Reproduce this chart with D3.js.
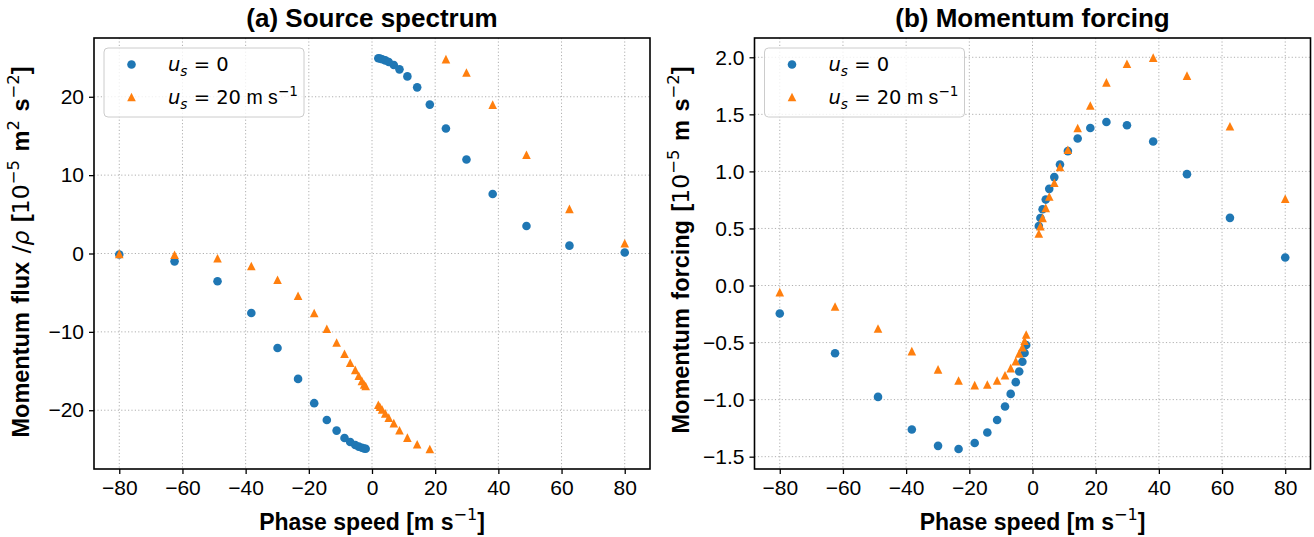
<!DOCTYPE html>
<html><head><meta charset="utf-8">
<script src="https://cdn.jsdelivr.net/npm/d3@7"></script>
<style>body{margin:0;background:#fff}svg text{font-family:"Liberation Sans",Arial,Helvetica,sans-serif;fill:#000}</style>
</head><body><svg id="c" width="1314" height="537"></svg>
<script>
// ---------- data ----------
const phaseSpeed = [-80,-62.5,-48.9,-38.2,-29.9,-23.4,-18.3,-14.3,-11.2,-8.7,-6.9,-5.3,-4.2,-3.2,-2.5,-2.0,
                     2.0,2.5,3.2,4.2,5.3,6.9,8.7,11.2,14.3,18.3,23.4,29.9,38.2,48.9,62.5,80];
const fluxU0 = [-0.13,-1.0,-3.55,-7.6,-12.05,-16.0,-19.1,-21.25,-22.6,-23.55,-24.05,-24.43,-24.64,-24.79,-24.88,-24.92,
                24.92,24.88,24.79,24.64,24.43,24.05,23.5,22.6,21.2,19.0,15.95,12.0,7.6,3.5,1.0,0.13];
const fluxU20 = [-0.05,-0.15,-0.6,-1.6,-3.35,-5.4,-7.6,-9.6,-11.35,-12.8,-13.95,-14.85,-15.6,-16.25,-16.7,-16.9,
                 -19.3,-19.55,-19.9,-20.4,-20.95,-21.65,-22.55,-23.5,-24.35,-24.95,24.8,23.1,19.0,12.6,5.7,1.3];
const forcingU0 = [-0.245,-0.593,-0.976,-1.262,-1.405,-1.433,-1.38,-1.288,-1.178,-1.06,-0.95,-0.847,-0.753,-0.668,-0.592,-0.522,
                   0.522,0.592,0.668,0.753,0.847,0.95,1.06,1.178,1.288,1.38,1.433,1.405,1.262,0.976,0.593,0.245];
const forcingU20 = [-0.058,-0.184,-0.377,-0.575,-0.735,-0.832,-0.873,-0.867,-0.832,-0.787,-0.724,-0.663,-0.595,-0.54,-0.484,-0.429,
                    0.456,0.52,0.593,0.68,0.78,0.9,1.04,1.19,1.38,1.577,1.78,1.944,1.997,1.839,1.395,0.76];
const xTickValues = [-80,-60,-40,-20,0,20,40,60,80];
const fluxTickValues = [-20,-10,0,10,20];
const forcingTickValues = [-1.5,-1.0,-0.5,0.0,0.5,1.0,1.5,2.0];

// ---------- drawing ----------
const svg = d3.select("#c");
const BLUE = "#1f77b4", ORANGE = "#ff7f0e";
const TOP = 38, BOTTOM = 469;
const MATH = "DejaVu Sans";
const fmtMinus = s => s.replace("-", "\u2212");

// parts: t=text, s=sup/sub, i=italic, m=math font (regular weight)
function rich(textSel, parts, base) {
  let cur = 0;
  parts.forEach(p => {
    const target = p.s === "sup" ? -0.42 * base : p.s === "sub" ? 0.25 * base : 0;
    const ts = textSel.append("tspan").attr("dy", target - cur).text(p.t);
    cur = target;
    ts.attr("font-size", p.s ? base * 0.7 : base);
    if (p.i) ts.attr("font-style", "italic");
    if (p.m) ts.style("font-family", MATH).attr("font-weight", "normal");
  });
}

function panel(opt) {
  const g = svg.append("g");
  const x = d3.scaleLinear().domain([-88, 88]).range([opt.left, opt.right]);
  const y = d3.scaleLinear().domain(opt.ydom).range([BOTTOM, TOP]);

  // grid
  const grid = g.append("g").attr("stroke", "#b0b0b0").attr("stroke-width", 1).attr("stroke-dasharray", "1.2,2.2");
  grid.selectAll(".gx").data(xTickValues).join("line")
    .attr("x1", d => x(d)).attr("x2", d => x(d)).attr("y1", TOP).attr("y2", BOTTOM);
  grid.selectAll(".gy").data(opt.yticks).join("line")
    .attr("y1", d => y(d)).attr("y2", d => y(d)).attr("x1", opt.left).attr("x2", opt.right);

  // axes
  const ax = g.append("g").attr("transform", `translate(0,${BOTTOM})`)
    .call(d3.axisBottom(x).tickValues(xTickValues).tickSize(5).tickPadding(6).tickFormat(d => fmtMinus(d3.format("d")(d))));
  const ay = g.append("g").attr("transform", `translate(${opt.left},0)`)
    .call(d3.axisLeft(y).tickValues(opt.yticks).tickSize(5).tickPadding(5).tickFormat(d => fmtMinus(opt.fmt(d))));
  [ax, ay].forEach(a => {
    a.select(".domain").remove();
    a.selectAll(".tick line").attr("stroke", "#000").attr("stroke-width", 1.3);
    a.selectAll(".tick text").attr("font-size", 21).attr("font-family", "Liberation Sans, Arial, sans-serif");
  });

  // markers
  const pts = g.append("g");
  pts.selectAll(".b").data(phaseSpeed.map((c, i) => [c, opt.s0[i]])).join("circle")
    .attr("cx", d => x(d[0])).attr("cy", d => y(d[1])).attr("r", 4.3).attr("fill", BLUE);
  pts.selectAll(".o").data(phaseSpeed.map((c, i) => [c, opt.s20[i]])).join("path")
    .attr("d", "M0,-4.3L4.3,4.3L-4.3,4.3Z")
    .attr("transform", d => `translate(${x(d[0])},${y(d[1])})`).attr("fill", ORANGE);

  // frame
  g.append("rect").attr("x", opt.left).attr("y", TOP).attr("width", opt.right - opt.left).attr("height", BOTTOM - TOP)
    .attr("fill", "none").attr("stroke", "#000").attr("stroke-width", 1.6);

  // title
  g.append("text").attr("x", (opt.left + opt.right) / 2).attr("y", 27).attr("text-anchor", "middle")
    .attr("font-size", 26).attr("font-weight", "bold").text(opt.title);

  // x label
  const xl = g.append("text").attr("x", (opt.left + opt.right) / 2).attr("y", 530).attr("text-anchor", "middle")
    .attr("font-weight", "bold").attr("font-size", 23);
  rich(xl, [{t: "Phase speed [m s"}, {t: "\u22121", s: "sup", m: 1}, {t: "]"}], 23);

  // y label
  const yl = g.append("text").attr("transform", `translate(${opt.ylx},${opt.yly}) rotate(-90)`)
    .attr("text-anchor", "middle").attr("font-weight", "bold").attr("font-size", 23.5).attr("word-spacing", 2);
  rich(yl, opt.ylabel, 23.5);

  // legend
  const lg = g.append("g").attr("transform", `translate(${opt.left + 10},48)`);
  lg.append("rect").attr("width", 200).attr("height", 69).attr("rx", 4)
    .attr("fill", "#fff").attr("fill-opacity", 0.8).attr("stroke", "#cccccc").attr("stroke-width", 1);
  lg.append("circle").attr("cx", 27.5).attr("cy", 16.5).attr("r", 4.3).attr("fill", BLUE);
  lg.append("path").attr("d", "M0,-4.3L4.3,4.3L-4.3,4.3Z").attr("transform", "translate(27.5,49)").attr("fill", ORANGE);
  const LF = 19.5;
  const t1 = lg.append("text").attr("x", 64).attr("y", 23).attr("font-size", LF);
  rich(t1, [{t: "u", i: 1, m: 1}, {t: "s", s: "sub", i: 1, m: 1}, {t: " = 0", m: 1}], LF);
  const t2 = lg.append("text").attr("x", 64).attr("y", 56).attr("font-size", LF);
  rich(t2, [{t: "u", i: 1, m: 1}, {t: "s", s: "sub", i: 1, m: 1}, {t: " = 20", m: 1}, {t: " m s"}, {t: "\u22121", s: "sup", m: 1}], LF);
}

panel({
  left: 94, right: 650, ydom: [-27.5, 27.5], yticks: fluxTickValues, fmt: d3.format("d"),
  s0: fluxU0, s20: fluxU20, title: "(a) Source spectrum", ylx: 29, yly: 252,
  ylabel: [{t: "Momentum flux "}, {t: "/", m: 1}, {t: "\u03c1", i: 1, m: 1}, {t: " ["}, {t: "10", m: 1}, {t: "\u22125", s: "sup", m: 1}, {t: " m"}, {t: "2", s: "sup", m: 1}, {t: " s"}, {t: "\u22122", s: "sup", m: 1}, {t: "]"}]
});
panel({
  left: 754.5, right: 1310.5, ydom: [-1.608, 2.169], yticks: forcingTickValues, fmt: d3.format(".1f"),
  s0: forcingU0, s20: forcingU20, title: "(b) Momentum forcing", ylx: 689, yly: 250,
  ylabel: [{t: "Momentum forcing ["}, {t: "10", m: 1}, {t: "\u22125", s: "sup", m: 1}, {t: " m s"}, {t: "\u22122", s: "sup", m: 1}, {t: "]"}]
});
</script></body></html>
